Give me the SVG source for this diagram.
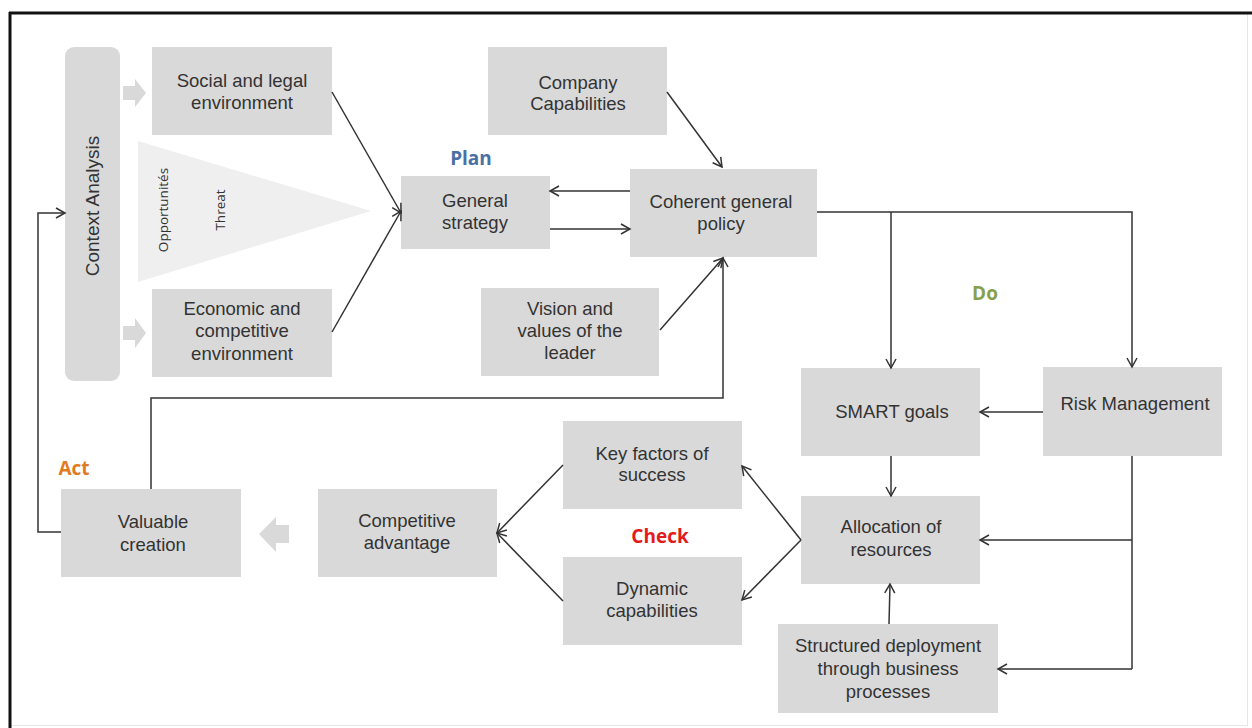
<svg xmlns="http://www.w3.org/2000/svg" width="1252" height="728" viewBox="0 0 1252 728">
  <style>
    .box { fill: #d9d9d9; }
    .lbl { font-family: "Liberation Sans", Arial, sans-serif; font-size: 18.5px; fill: #333333; text-anchor: middle; }
    .phase { font-family: "Open Sans", "Liberation Sans", sans-serif; font-size: 19px; font-weight: bold; text-anchor: middle; }
    .small { font-family: "Open Sans", "Liberation Sans", sans-serif; font-size: 13.5px; fill: #333333; text-anchor: middle; }
    .conn { fill: none; stroke: #333333; stroke-width: 1.5; marker-end: url(#arr); }
    .line { fill: none; stroke: #333333; stroke-width: 1.5; }
    .block { fill: #d9d9d9; }
  </style>
  <defs>
    <marker id="arr" markerUnits="userSpaceOnUse" markerWidth="12" markerHeight="12" refX="10" refY="6" orient="auto">
      <path d="M1,1 L10,6 L1,11" fill="none" stroke="#333333" stroke-width="1.5"/>
    </marker>
  </defs>

  <!-- frame -->
  <rect x="0" y="0" width="1252" height="728" fill="#ffffff"/>
  <rect x="10.5" y="13.5" width="1237" height="712" fill="none" stroke="#e6e6e6" stroke-width="1"/>
  <line x1="9" y1="13" x2="1252" y2="13" stroke="#111111" stroke-width="3"/>
  <line x1="10" y1="12" x2="10" y2="728" stroke="#111111" stroke-width="3"/>

  <!-- context analysis column and side arrows -->
  <g id="context-analysis">
    <rect x="65" y="47" width="55" height="334" rx="9" class="box"/>
    <text class="lbl" font-size="19" transform="translate(99,206) rotate(-90)" style="font-size:19px">Context  Analysis</text>
  </g>
  <g id="side-arrows">
    <polygon class="block" points="123,86 135,86 135,79 146,93 135,107 135,100 123,100"/>
    <polygon class="block" points="123,326 135,326 135,318 146,333 135,348 135,340 123,340"/>
  </g>

  <!-- opportunities / threats wedge -->
  <g id="opportunities-threats">
    <polygon points="138,141 138,282 371,211" fill="#efefef"/>
    <text class="small" transform="translate(168,210) rotate(-90)">Opportunités</text>
    <text class="small" transform="translate(225,210) rotate(-90)">Threat</text>
  </g>

  <g id="social-legal">
    <rect x="152" y="47" width="180" height="88" class="box"/>
    <text class="lbl" x="242" y="87">Social and legal</text>
    <text class="lbl" x="242" y="109">environment</text>
  </g>

  <g id="economic-competitive">
    <rect x="152" y="289" width="180" height="88" class="box"/>
    <text class="lbl" x="242" y="315">Economic and</text>
    <text class="lbl" x="242" y="337">competitive</text>
    <text class="lbl" x="242" y="360">environment</text>
  </g>

  <g id="general-strategy">
    <rect x="401" y="176" width="149" height="73" class="box"/>
    <text class="lbl" x="475" y="207">General</text>
    <text class="lbl" x="475" y="229">strategy</text>
  </g>

  <g id="company-capabilities">
    <rect x="488" y="47" width="179" height="88" class="box"/>
    <text class="lbl" x="578" y="89">Company</text>
    <text class="lbl" x="578" y="110">Capabilities</text>
  </g>

  <g id="coherent-policy">
    <rect x="630" y="169" width="187" height="88" class="box"/>
    <text class="lbl" x="721" y="208">Coherent general</text>
    <text class="lbl" x="721" y="230">policy</text>
  </g>

  <g id="vision-values">
    <rect x="481" y="288" width="178" height="88" class="box"/>
    <text class="lbl" x="570" y="315">Vision and</text>
    <text class="lbl" x="570" y="337">values of the</text>
    <text class="lbl" x="570" y="359">leader</text>
  </g>

  <g id="smart-goals">
    <rect x="801" y="368" width="179" height="88" class="box"/>
    <text class="lbl" x="892" y="418">SMART  goals</text>
  </g>

  <g id="risk-management">
    <rect x="1043" y="367" width="179" height="89" class="box"/>
    <text class="lbl" x="1135" y="410">Risk Management</text>
  </g>

  <g id="allocation">
    <rect x="801" y="496" width="179" height="88" class="box"/>
    <text class="lbl" x="891" y="533">Allocation of</text>
    <text class="lbl" x="891" y="556">resources</text>
  </g>

  <g id="structured-deployment">
    <rect x="778" y="624" width="220" height="89" class="box"/>
    <text class="lbl" x="888" y="652">Structured deployment</text>
    <text class="lbl" x="888" y="675">through  business</text>
    <text class="lbl" x="888" y="698">processes</text>
  </g>

  <g id="key-factors">
    <rect x="563" y="421" width="179" height="88" class="box"/>
    <text class="lbl" x="652" y="460">Key factors of</text>
    <text class="lbl" x="652" y="481">success</text>
  </g>

  <g id="dynamic-capabilities">
    <rect x="563" y="557" width="179" height="88" class="box"/>
    <text class="lbl" x="652" y="595">Dynamic</text>
    <text class="lbl" x="652" y="617">capabilities</text>
  </g>

  <g id="competitive-advantage">
    <rect x="318" y="489" width="179" height="88" class="box"/>
    <text class="lbl" x="407" y="527">Competitive</text>
    <text class="lbl" x="407" y="549">advantage</text>
  </g>

  <g id="valuable-creation">
    <rect x="61" y="489" width="180" height="88" class="box"/>
    <text class="lbl" x="153" y="528">Valuable</text>
    <text class="lbl" x="153" y="551">creation</text>
  </g>

  <g id="advantage-to-value-arrow">
    <polygon class="block" points="289,525 276,525 276,517 259,534 276,552 276,543 289,543"/>
  </g>

  <!-- PDCA phase labels -->
  <g id="phase-labels">
    <text class="phase" x="471" y="165" fill="#4a6fa5">Plan</text>
    <text class="phase" x="985" y="300" fill="#87a04c">Do</text>
    <text class="phase" x="660" y="543" fill="#e31b1b">Check</text>
    <text class="phase" x="74" y="475" fill="#e07b22">Act</text>
  </g>

  <g id="connectors">
    <path class="conn" d="M332,92 L401,213"/>
    <path class="conn" d="M332,332 L401,211"/>
    <path class="conn" d="M667,92 L722,167"/>
    <path class="conn" d="M630,191 L550,191"/>
    <path class="conn" d="M550,229 L630,229"/>
    <path class="conn" d="M660,330 L723,258"/>
    <path class="conn" d="M151,489 L151,398 L723,398 L723,258"/>
    <path class="conn" d="M61,532 L38,532 L38,213 L65,213"/>
    <path class="conn" d="M817,212 L1132,212 L1132,367"/>
    <path class="conn" d="M891,212 L891,368"/>
    <path class="conn" d="M1043,412 L980,412"/>
    <path class="conn" d="M891,456 L891,496"/>
    <path class="line" d="M1132,456 L1132,669"/>
    <path class="conn" d="M1132,540 L980,540"/>
    <path class="conn" d="M1132,669 L998,669"/>
    <path class="conn" d="M889,624 L890,584"/>
    <path class="conn" d="M801,540 L742,466"/>
    <path class="conn" d="M801,540 L742,600"/>
    <path class="conn" d="M563,465 L497,533"/>
    <path class="conn" d="M563,601 L497,533"/>
  </g>
</svg>
